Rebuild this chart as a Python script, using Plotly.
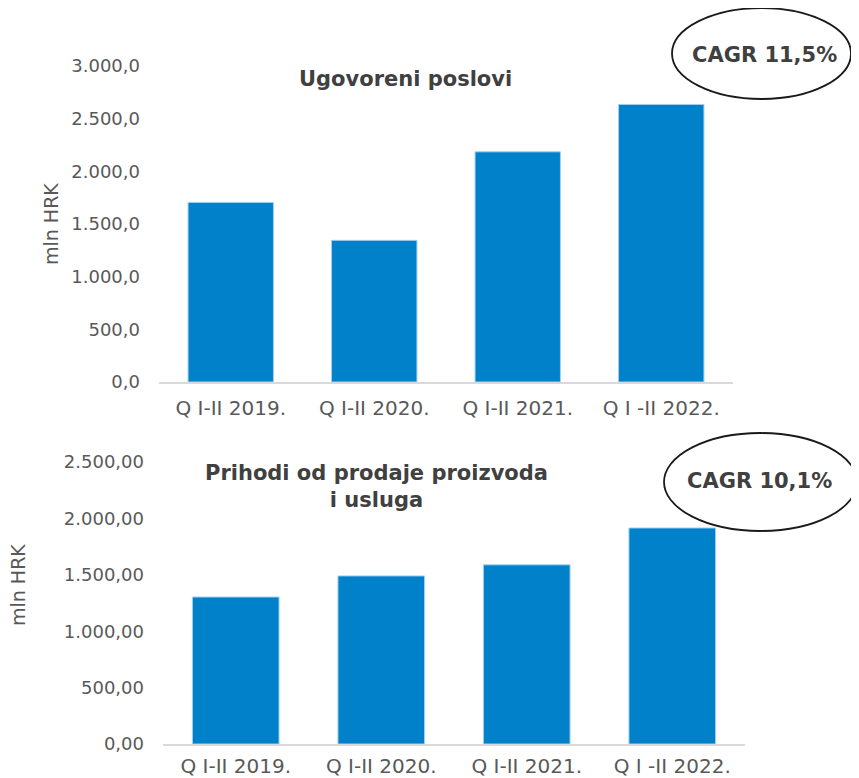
import plotly.graph_objects as go

# page body has an 8px margin; figure fills the rest of the 859x778 window
OFF = 8
W, H = 859 - OFF, 778 - OFF

categories = ["Q I-II 2019.", "Q I-II 2020.", "Q I-II 2021.", "Q I -II 2022."]
ugovoreni = [1705, 1345, 2185, 2635]
prihodi = [1303, 1490, 1588, 1915]

title_top = "Ugovoreni poslovi"
title_bottom = "Prihodi od prodaje proizvoda<br>i usluga"
cagr_top = "CAGR 11,5%"
cagr_bottom = "CAGR 10,1%"
yaxis_label = "mln HRK"

BLUE = "#0081C9"
TXT = "#595959"
FONT = "DejaVu Sans"

def px(x):
    return (x - OFF) / W

def py(y):
    return (H - (y - OFF)) / H

fig = go.Figure()
fig.add_trace(go.Bar(x=categories, y=ugovoreni, marker=dict(color=BLUE, line=dict(color="#9fd0ee", width=1)),
                     xaxis="x", yaxis="y", hoverinfo="x+y"))
fig.add_trace(go.Bar(x=categories, y=prihodi, marker=dict(color=BLUE, line=dict(color="#9fd0ee", width=1)),
                     xaxis="x2", yaxis="y2", hoverinfo="x+y"))

yfont = dict(family=FONT, size=18, color=TXT)
xfont = dict(family=FONT, size=20, color=TXT)

fig.update_layout(
    width=W, height=H,
    margin=dict(l=0, r=0, t=0, b=0, autoexpand=False),
    paper_bgcolor="white", plot_bgcolor="white",
    showlegend=False,
    separators=",.",
    bargap=0.405,
    xaxis=dict(domain=[px(159), px(733)], anchor="y", showline=True, linecolor="#d9d9d9", linewidth=2,
               showgrid=False, zeroline=False, ticks="", ticklabelstandoff=7, tickfont=xfont, automargin=False),
    yaxis=dict(domain=[py(382), py(66)], anchor="x", range=[0, 3000], dtick=500, tickformat=",.1f",
               showgrid=False, zeroline=False, showline=False, ticks="", ticklabelstandoff=18, tickfont=yfont,
               automargin=False),
    xaxis2=dict(domain=[px(163), px(745)], anchor="y2", showline=True, linecolor="#d9d9d9", linewidth=2,
                showgrid=False, zeroline=False, ticks="", ticklabelstandoff=3, tickfont=xfont, automargin=False),
    yaxis2=dict(domain=[py(744), py(462)], anchor="x2", range=[0, 2500], dtick=500, tickformat=",.2f",
                showgrid=False, zeroline=False, showline=False, ticks="", ticklabelstandoff=18, tickfont=yfont,
                automargin=False),
)

anns = [
    dict(text="<b>" + title_top + "</b>", x=px(405), y=py(79), font=dict(family=FONT, size=21, color="#404040"),
         xanchor="center", yanchor="middle"),
    dict(text="<b>" + title_bottom.replace("<br>", "</b><br><b>") + "</b>", x=px(376), y=py(486),
         font=dict(family=FONT, size=21, color="#404040"), xanchor="center", yanchor="middle"),
    dict(text=yaxis_label, x=px(51), y=py(224), textangle=-90, font=dict(family=FONT, size=19, color=TXT),
         xanchor="center", yanchor="middle"),
    dict(text=yaxis_label, x=px(18), y=py(585), textangle=-90, font=dict(family=FONT, size=19, color=TXT),
         xanchor="center", yanchor="middle"),
    dict(text="<b>" + cagr_top + "</b>", x=px(764), y=py(55), font=dict(family=FONT, size=21, color="#404040"),
         xanchor="center", yanchor="middle"),
    dict(text="<b>" + cagr_bottom + "</b>", x=px(759), y=py(481), font=dict(family=FONT, size=21, color="#404040"),
         xanchor="center", yanchor="middle"),
]
for a in anns:
    a.update(xref="paper", yref="paper", showarrow=False)
fig.update_layout(annotations=anns)

fig.add_shape(type="circle", xref="paper", yref="paper", x0=px(672), x1=px(851), y0=py(99), y1=py(8),
              line=dict(color="#1a1a1a", width=1.8), fillcolor="rgba(0,0,0,0)")
fig.add_shape(type="circle", xref="paper", yref="paper", x0=px(664), x1=px(857), y0=py(531), y1=py(433),
              line=dict(color="#1a1a1a", width=1.8), fillcolor="rgba(0,0,0,0)")

fig.write_html("out.html")
